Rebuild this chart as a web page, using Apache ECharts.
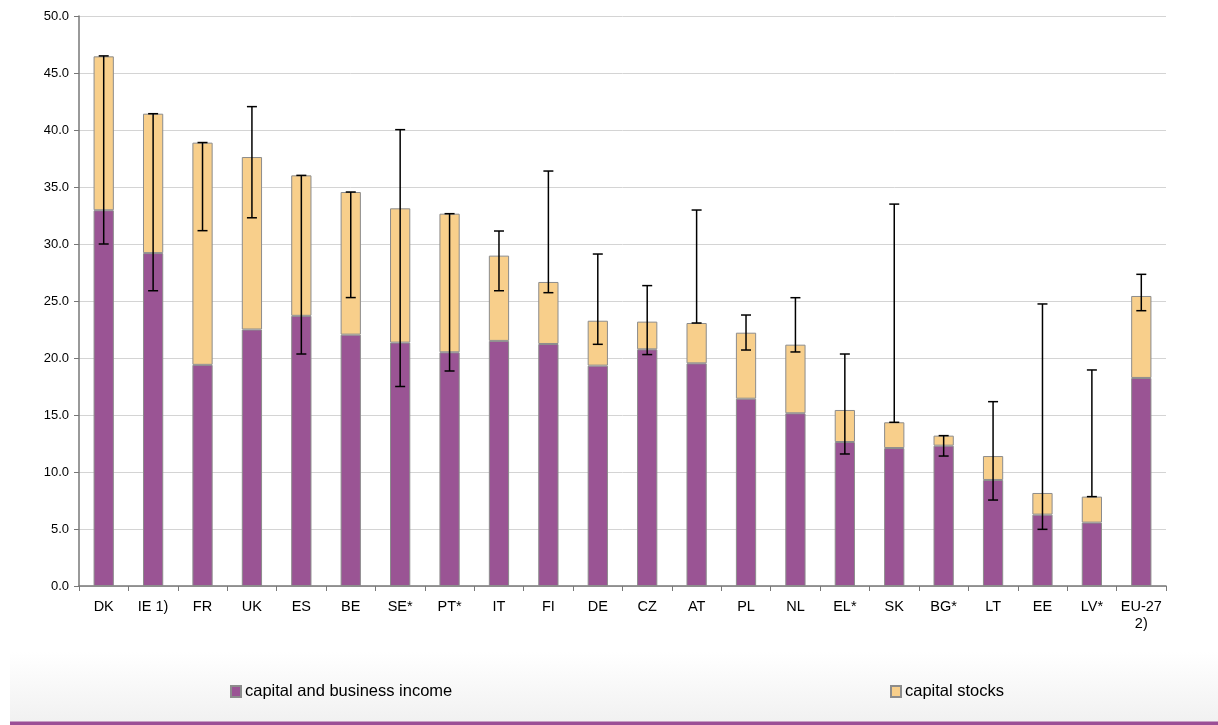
<!DOCTYPE html>
<html>
<head>
<meta charset="utf-8">
<style>
html,body{margin:0;padding:0;background:#fff;}
#chart{width:1218px;height:725px;}
</style>
<script src="https://cdn.jsdelivr.net/npm/echarts@6/dist/echarts.min.js"></script>
</head>
<body>
<div id="chart"></div>
<script>
var categories = ['DK','IE 1)','FR','UK','ES','BE','SE*','PT*','IT','FI','DE','CZ','AT','PL','NL','EL*','SK','BG*','LT','EE','LV*','EU-27\n2)'];
var incomeValues = [32.96,29.2,19.4,22.5,23.7,22.05,21.35,20.5,21.5,21.23,19.33,20.76,19.53,16.43,15.15,12.63,12.1,12.31,9.3,6.26,5.56,18.25];
var totalValues  = [46.46,41.43,38.89,37.63,36.02,34.56,33.13,32.66,28.98,26.67,23.27,23.19,23.07,22.22,21.17,15.44,14.36,13.19,11.4,8.16,7.84,25.44];
var errLow  = [30.0,25.9,31.17,32.3,20.35,25.3,17.5,18.86,25.9,25.73,21.2,20.3,23.07,20.7,20.53,11.58,14.36,11.4,7.54,4.97,7.84,24.15];
var errHigh = [46.5,41.43,38.9,42.05,36.02,34.56,40.03,32.66,31.14,36.4,29.12,26.35,32.98,23.77,25.29,20.35,33.5,13.19,16.17,24.74,18.95,27.34];
var yTicks = {min:0, max:50, interval:5};
var seriesNames = ['capital and business income','capital stocks'];

var stockValues = totalValues.map(function(t,i){ return +(t - incomeValues[i]).toFixed(2); });
var errData = categories.map(function(c,i){ return [i, errLow[i], errHigh[i]]; });

var chart = echarts.init(document.getElementById('chart'));
var font = '"Liberation Sans", Arial, sans-serif';
var option = {
  animation: false,
  textStyle: {fontFamily: font},
  graphic: [
    {type:'rect', z:-10, shape:{x:10, y:652, width:1208, height:70},
     style:{fill:new echarts.graphic.LinearGradient(0,0,0,1,[{offset:0,color:'#ffffff'},{offset:1,color:'#f1f1f1'}])}},
    {type:'rect', z:-9, shape:{x:10, y:721.5, width:1208, height:3.5}, style:{fill:'#9b4f96'}}
  ],
  legend: [
    {left:230, top:683, padding:0, itemWidth:10, itemHeight:11, itemGap:4, icon:'rect',
     data:[seriesNames[0]], textStyle:{fontSize:16.5, color:'#000', fontFamily:font, padding:[0,0,0,-1]}},
    {left:890, top:683, padding:0, itemWidth:10, itemHeight:11, itemGap:4, icon:'rect',
     data:[seriesNames[1]], textStyle:{fontSize:16.5, color:'#000', fontFamily:font, padding:[0,0,0,-1]}}
  ],
  grid: {left:79, top:16, right:52, bottom:139, containLabel:false},
  xAxis: {
    type:'category', data:categories, boundaryGap:true,
    axisLine:{show:true, lineStyle:{color:'#777', width:1.5}},
    axisTick:{show:true, alignWithLabel:false, length:5, lineStyle:{color:'#777'}},
    axisLabel:{color:'#000', fontSize:14.5, fontFamily:font, margin:12, interval:0, lineHeight:17},
    splitLine:{show:false}
  },
  yAxis: {
    type:'value', min:yTicks.min, max:yTicks.max, interval:yTicks.interval,
    axisLine:{show:true, lineStyle:{color:'#777', width:1.5}},
    axisTick:{show:true, length:5, lineStyle:{color:'#777'}},
    axisLabel:{color:'#000', fontSize:13, fontFamily:font, margin:10,
      formatter:function(v){ return v.toFixed(1); }},
    splitLine:{show:true, lineStyle:{color:'#d4d4d4', width:1}}
  },
  series: [
    {name:seriesNames[0], type:'bar', stack:'s', data:incomeValues, barWidth:'41%',
     itemStyle:{color:'#9a5494', borderColor:'#8c8c8c', borderWidth:1}},
    {name:seriesNames[1], type:'bar', stack:'s', data:stockValues, barWidth:'41%',
     itemStyle:{color:'#f8cf8b', borderColor:'#8c8c8c', borderWidth:1}},
    {name:'err', type:'custom', data:errData, z:10,
     renderItem:function(params, api){
       var x = api.value(0);
       var lo = api.coord([x, api.value(1)]);
       var hi = api.coord([x, api.value(2)]);
       var hw = 5;
       var st = {stroke:'#000', lineWidth:1.5};
       return {type:'group', children:[
         {type:'line', shape:{x1:lo[0], y1:lo[1], x2:hi[0], y2:hi[1]}, style:st},
         {type:'line', shape:{x1:lo[0]-hw, y1:lo[1], x2:lo[0]+hw, y2:lo[1]}, style:st},
         {type:'line', shape:{x1:hi[0]-hw, y1:hi[1], x2:hi[0]+hw, y2:hi[1]}, style:st}
       ]};
     }}
  ]
};
chart.setOption(option);
</script>
</body>
</html>
